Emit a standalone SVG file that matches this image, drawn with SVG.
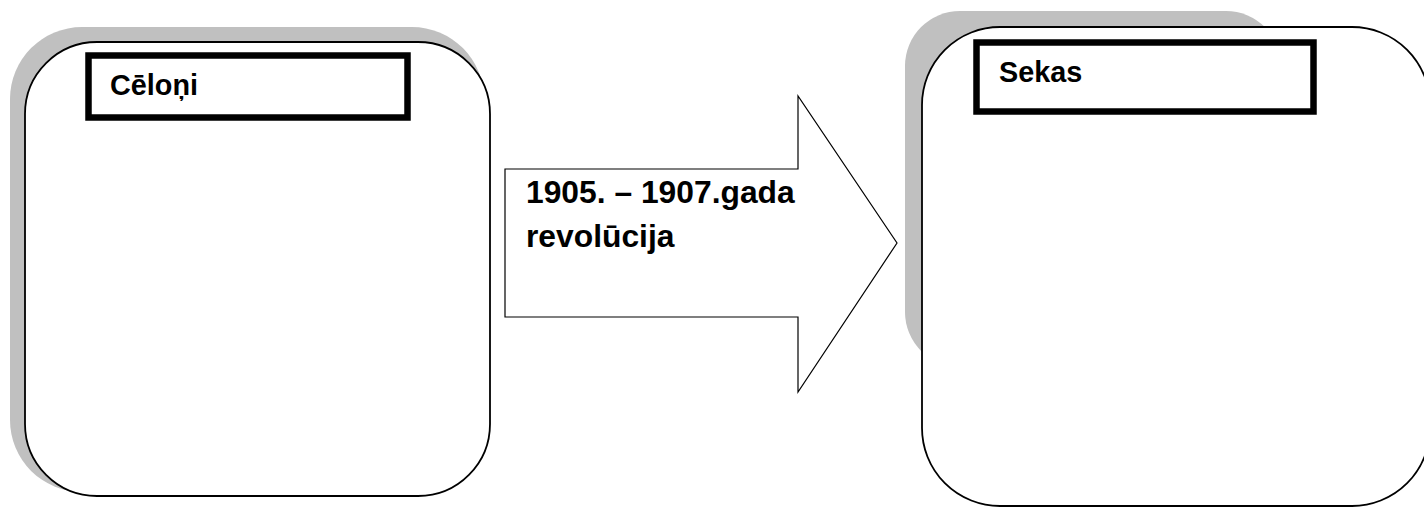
<svg xmlns="http://www.w3.org/2000/svg" width="1424" height="508" viewBox="0 0 1424 508">
<style>
.shadow{fill:#c0c0c0;stroke:none}
.panel{fill:#ffffff;stroke:#000000;stroke-width:1.8}
.title{fill:#ffffff;stroke:#000000;stroke-width:6.5}
.arrow{fill:#ffffff;stroke:#000000;stroke-width:1.2;stroke-linejoin:miter}
.lbl{font-family:"Liberation Sans",Arial,sans-serif;font-weight:bold;fill:#000000}
</style>
<rect width="1424" height="508" fill="#ffffff"/>
<g id="causes">
<rect class="shadow" x="10" y="27" width="474" height="465" rx="72" ry="72"/>
<rect class="panel" x="25" y="42" width="465" height="454" rx="72" ry="72"/>
<rect class="title" x="88.5" y="55.5" width="319" height="62"/>
<text class="lbl" x="110" y="95" font-size="28.8">Cēloņi</text>
</g>
<g id="consequences">
<rect class="shadow" x="905" y="11" width="376" height="356" rx="55" ry="55"/>
<rect class="panel" x="922" y="27" width="508" height="479" rx="78" ry="78"/>
<rect class="title" x="976.5" y="42.5" width="337" height="69"/>
<text class="lbl" x="999" y="82" font-size="28.8">Sekas</text>
</g>
<g id="revolution">
<polygon class="arrow" points="505,169 798,169 798,96 897,243 798,392 798,317 505,317"/>
<text class="lbl" font-size="31.8"><tspan x="526" y="203">1905. – 1907.gada</tspan><tspan x="526" y="247">revolūcija</tspan></text>
</g>
<g id="connectors"/>
</svg>
